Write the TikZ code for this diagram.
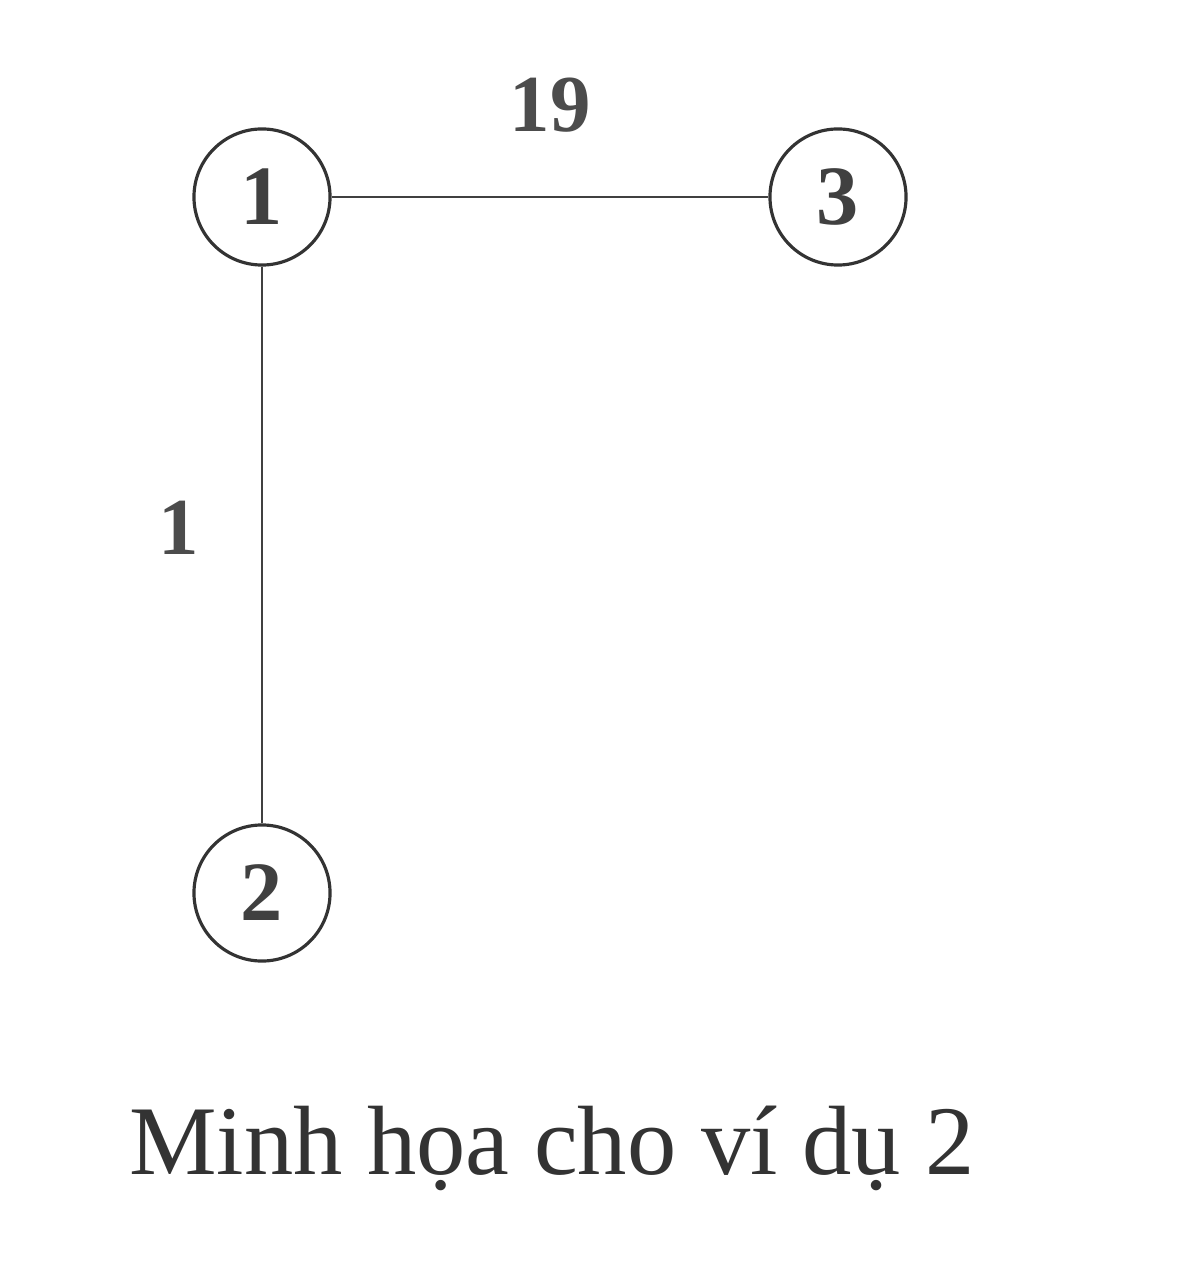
\documentclass[tikz,border=0pt]{standalone}
\usepackage{fontspec}
\setmainfont{Liberation Serif}
\begin{document}
\begin{tikzpicture}[x=0.01cm,y=-0.01cm,
        vertex/.style={draw=black!80, circle, line width=0.9pt, minimum size=1.36cm, inner sep=0pt, font=\fontsize{24}{26}\selectfont\bfseries, text=black!75},
        weight/.style={font=\fontsize{23}{26}\selectfont\bfseries, text=black!70}]
        \useasboundingbox (0,0) rectangle (1186,1280);
        \node[vertex] (1) at (262,197) {1};
        \node[vertex] (3) at (838,197) {3};
        \node[vertex] (2) at (262,893) {2};

        \path[draw,line width=0.7pt,black!75] (1) -- (3) node[weight, midway, above=0.52cm] {19};
        \path[draw,line width=0.7pt,black!75] (1) -- (2) node[weight, pos=0.47, left=0.5cm] {1};

        \node[font=\fontsize{28}{32}\selectfont, text=black!80] (caption) at (552,1148) {Minh họa cho ví dụ 2};
    \end{tikzpicture}
\end{document}
